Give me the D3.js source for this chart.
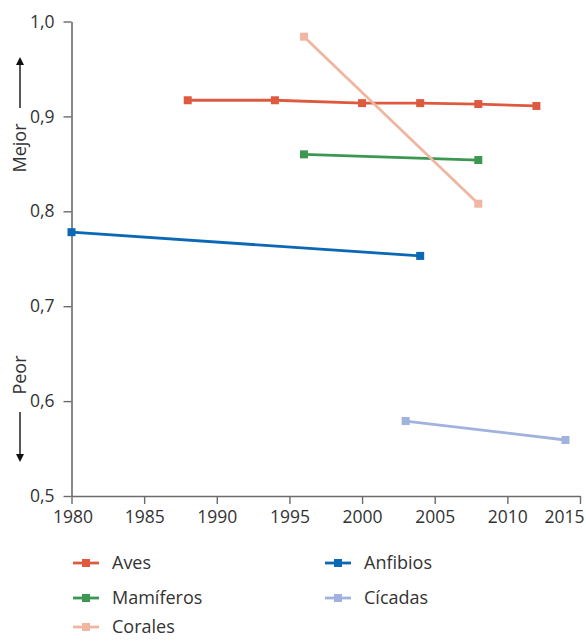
<!DOCTYPE html>
<html>
<head>
<meta charset="utf-8">
<script src="https://cdn.jsdelivr.net/npm/d3@7"></script>
<style>
  html, body { margin: 0; padding: 0; background: #fff; }
  svg { display: block; }
  text { font-family: "Open Sans", sans-serif; fill: #333; }
</style>
</head>
<body>
<svg id="chart" width="586" height="641"></svg>
<script>
// ---- data ----
const seriesNames = ["Aves", "Mamíferos", "Corales", "Anfibios", "Cícadas"];
const avesYears = [1988, 1994, 2000, 2004, 2008, 2012];
const avesValues = [0.917, 0.917, 0.914, 0.914, 0.913, 0.911];
const mamiferosYears = [1996, 2008];
const mamiferosValues = [0.860, 0.854];
const coralesYears = [1996, 2008];
const coralesValues = [0.984, 0.808];
const anfibiosYears = [1980, 2004];
const anfibiosValues = [0.778, 0.753];
const cicadasYears = [2003, 2014];
const cicadasValues = [0.579, 0.559];
const xTicks = [1980, 1985, 1990, 1995, 2000, 2005, 2010, 2015];
const yTicks = [0.5, 0.6, 0.7, 0.8, 0.9, 1.0];
const colors = {
  "Aves": "#de5a3f",
  "Mamíferos": "#3c9752",
  "Corales": "#efb7a1",
  "Anfibios": "#0a68b4",
  "Cícadas": "#a1b2de"
};

const series = [
  { name: "Aves", years: avesYears, values: avesValues },
  { name: "Mamíferos", years: mamiferosYears, values: mamiferosValues },
  { name: "Corales", years: coralesYears, values: coralesValues },
  { name: "Anfibios", years: anfibiosYears, values: anfibiosValues },
  { name: "Cícadas", years: cicadasYears, values: cicadasValues }
];

const svg = d3.select("#chart");
const x = d3.scaleLinear().domain([1980, 2015]).range([71.5, 580]);
const y = d3.scaleLinear().domain([0.5, 1.0]).range([496, 21.5]);
const axisColor = "#6b6b6b";

// x axis
const gx = svg.append("g").attr("transform", "translate(0,496)")
  .call(d3.axisBottom(x).tickValues(xTicks).tickFormat(d3.format("d")).tickSize(8).tickPadding(7).tickSizeOuter(0));
// y axis
const gy = svg.append("g").attr("transform", "translate(71.5,0)")
  .call(d3.axisLeft(y).tickValues(yTicks).tickFormat(d => d.toFixed(1).replace(".", ",")).tickSize(8).tickPadding(9).tickSizeOuter(0));

[gx, gy].forEach(g => {
  g.select(".domain").attr("stroke", axisColor).attr("stroke-width", 1.6);
  g.selectAll(".tick line").attr("stroke", axisColor).attr("stroke-width", 1.4);
  g.selectAll(".tick text").style("font-size", "17.5px").attr("fill", "#333");
});
gx.selectAll(".tick text").filter(d => d === 2015).attr("text-anchor", "end").attr("dx", "4");
gx.selectAll(".tick text").filter(d => d === 1980).attr("dx", "1");

// Mejor / Peor labels with arrows
svg.append("defs").append("marker")
  .attr("id", "arrow").attr("viewBox", "0 0 10 10").attr("refX", 5).attr("refY", 5)
  .attr("markerWidth", 8).attr("markerHeight", 10).attr("markerUnits", "userSpaceOnUse")
  .attr("orient", "auto-start-reverse")
  .append("path").attr("d", "M0,0 L10,5 L0,10 Z").attr("fill", "#111");

svg.append("line").attr("x1", 20).attr("x2", 20).attr("y1", 108).attr("y2", 61)
  .attr("stroke", "#111").attr("stroke-width", 1.4).attr("marker-end", "url(#arrow)");
svg.append("text").attr("transform", "translate(26,148) rotate(-90)")
  .attr("text-anchor", "middle").style("font-size", "18px").text("Mejor");

svg.append("line").attr("x1", 20).attr("x2", 20).attr("y1", 412).attr("y2", 458)
  .attr("stroke", "#111").attr("stroke-width", 1.4).attr("marker-end", "url(#arrow)");
svg.append("text").attr("transform", "translate(26,375) rotate(-90)")
  .attr("text-anchor", "middle").style("font-size", "18px").text("Peor");

// lines and markers
const line = d3.line().x(d => x(d[0])).y(d => y(d[1]));
const ms = 8;
series.forEach(s => {
  const pts = s.years.map((yr, i) => [yr, s.values[i]]);
  const g = svg.append("g");
  g.append("path").datum(pts).attr("d", line)
    .attr("fill", "none").attr("stroke", colors[s.name]).attr("stroke-width", 2.8);
  g.selectAll("rect").data(pts).join("rect")
    .attr("x", d => x(d[0]) - ms / 2).attr("y", d => y(d[1]) - ms / 2)
    .attr("width", ms).attr("height", ms).attr("fill", colors[s.name]);
});

// legend
const legendPos = {
  "Aves": [73, 563], "Mamíferos": [73, 598], "Corales": [73, 627],
  "Anfibios": [325, 563], "Cícadas": [325, 598]
};
seriesNames.forEach(n => {
  const [lx, ly] = legendPos[n];
  const g = svg.append("g").attr("transform", `translate(${lx},${ly})`);
  g.append("line").attr("x1", 0).attr("x2", 26).attr("y1", 0).attr("y2", 0)
    .attr("stroke", colors[n]).attr("stroke-width", 2.8);
  g.append("rect").attr("x", 13 - ms / 2).attr("y", -ms / 2).attr("width", ms).attr("height", ms)
    .attr("fill", colors[n]);
  g.append("text").attr("x", 39).attr("y", 0).attr("dy", "0.35em")
    .style("font-size", "18px").text(n);
});
</script>
</body>
</html>
